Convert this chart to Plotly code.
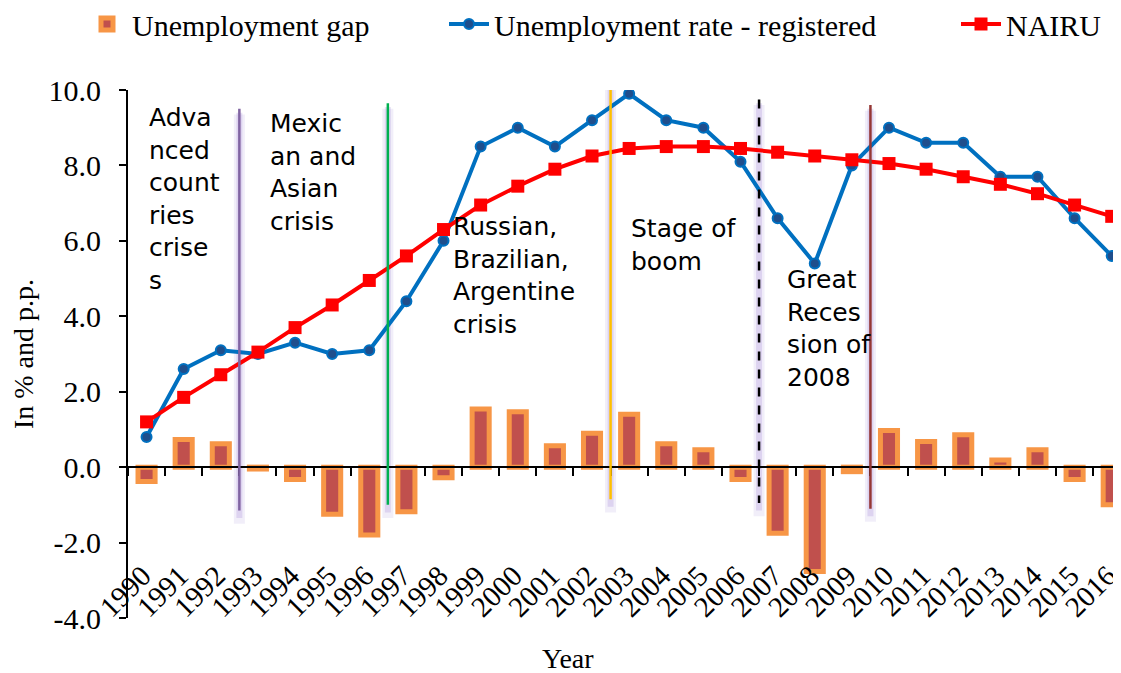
import plotly.graph_objects as go

years = [str(y) for y in range(1990, 2017)]
rate_registered = [0.8, 2.6, 3.1, 3.0, 3.3, 3.0, 3.1, 4.4, 6.0, 8.5, 9.0, 8.5, 9.2, 9.9,
                   9.2, 9.0, 8.1, 6.6, 5.4, 8.0, 9.0, 8.6, 8.6, 7.7, 7.7, 6.6, 5.6]
nairu = [1.2, 1.85, 2.45, 3.05, 3.7, 4.3, 4.95, 5.6, 6.3, 6.95, 7.45, 7.9, 8.25, 8.45,
         8.5, 8.5, 8.45, 8.35, 8.25, 8.15, 8.05, 7.9, 7.7, 7.5, 7.25, 6.95, 6.65]
gap = [-0.38, 0.73, 0.62, -0.05, -0.33, -1.25, -1.8, -1.18, -0.28, 1.54, 1.47, 0.57, 0.9, 1.4,
       0.62, 0.46, -0.33, -1.75, -2.77, -0.12, 0.97, 0.68, 0.86, 0.19, 0.46, -0.33, -1.0]

y_tickvals = [-4, -2, 0, 2, 4, 6, 8, 10]
y_ticktext = ["-4.0", "-2.0", "0.0", "2.0", "4.0", "6.0", "8.0", "10.0"]

# crisis separators: placed between year and the next year
event_after = ["1992", "1996", "2002", "2006", "2009"]
event_top = [9.5, 9.65, 10.15, 9.75, 9.6]
event_bottom = [-1.15, -1.0, -0.85, -0.95, -1.1]
event_color = ["#8064A2", "#00B050", "#FFC000", "#000000", "#953735"]
event_dash = ["solid", "solid", "solid", "dash", "solid"]

period_text = ["Adva<br>nced<br>count<br>ries<br>crise<br>s",
               "Mexic<br>an and<br>Asian<br>crisis",
               "Russian,<br>Brazilian,<br>Argentine<br>crisis",
               "Stage of<br>boom",
               "Great<br>Reces<br>sion of<br>2008"]
period_x = [0.0, 3.27, 8.19, 12.99, 17.19]
period_y = [9.70, 9.55, 6.82, 6.77, 5.42]

YMIN, YMAX = -4, 10
serif = "Liberation Serif"
W, H = 1113, 665   # page body adds an 8px margin

fig = go.Figure()
fig.add_trace(go.Bar(
    x=years, y=gap, name="Unemployment gap", width=0.46,
    marker=dict(color="#C0504D", line=dict(color="#F79646", width=5)),
    legend="legend"))
fig.add_trace(go.Scatter(
    x=years, y=rate_registered, name="Unemployment rate - registered", mode="lines+markers",
    line=dict(color="#0070C0", width=4),
    marker=dict(symbol="circle", size=10, color="#1F4E8C", line=dict(color="#0070C0", width=2)),
    legend="legend2"))
fig.add_trace(go.Scatter(
    x=years, y=nairu, name="NAIRU", mode="lines+markers",
    line=dict(color="#FF0000", width=4),
    marker=dict(symbol="square", size=13, color="#FF0000"),
    legend="legend3"))
# invisible trace carrying the boundary tick marks on the zero line
fig.add_trace(go.Scatter(x=years, y=[None] * len(years), xaxis="x2", showlegend=False,
                         hoverinfo="skip"))

shapes = []
for after, top, bot, col, dash in zip(event_after, event_top, event_bottom, event_color, event_dash):
    xi = years.index(after) + 0.5
    shapes.append(dict(type="line", xref="x", yref="y", x0=xi, x1=xi, y0=top - 0.15, y1=bot - 0.35,
                       line=dict(color="rgba(150,120,210,0.13)", width=11), layer="below"))
    shapes.append(dict(type="line", xref="x", yref="y", x0=xi, x1=xi, y0=top - 0.1, y1=bot - 0.2,
                       line=dict(color="rgba(150,120,210,0.22)", width=6), layer="below"))
    shapes.append(dict(type="line", xref="x", yref="y", x0=xi, x1=xi, y0=top, y1=bot,
                       line=dict(color=col, width=2.5, dash=dash), layer="above"))

annotations = []
for t, xx, yy in zip(period_text, period_x, period_y):
    annotations.append(dict(text=t, x=xx, y=yy, xref="x", yref="y", xanchor="left", yanchor="top",
                            align="left", showarrow=False,
                            font=dict(family="DejaVu Sans", size=25, color="#000000")))
annotations.append(dict(text="Year", x=0.443, y=-0.077, xref="paper", yref="paper",
                        xanchor="center", yanchor="middle", showarrow=False,
                        font=dict(family=serif, size=28, color="#000000")))

zero_pos = (0 - YMIN) / (YMAX - YMIN)
label_pos = (-2.25 - YMIN) / (YMAX - YMIN)

legend_common = dict(orientation="h", xref="container", yref="container", yanchor="middle",
                     y=1 - 16 / H, font=dict(family=serif, size=30, color="#000000"),
                     bgcolor="rgba(0,0,0,0)", itemwidth=40)

fig.update_layout(
    width=W, height=H,
    margin=dict(l=120, r=0, t=82, b=55, autoexpand=False),
    plot_bgcolor="white", paper_bgcolor="white",
    xaxis=dict(type="category", range=[-0.5, 26.25], anchor="free", position=label_pos,
               showline=False, ticks="", showgrid=False, tickangle=-45, automargin=False,
               ticklabelshift=-4,
               tickfont=dict(family=serif, size=29, color="#000000")),
    xaxis2=dict(type="category", range=[-0.5, 26.25], overlaying="x", anchor="free",
                position=zero_pos, showline=True, linecolor="#000000", linewidth=2,
                ticks="outside", tickson="boundaries", ticklen=8, tickwidth=2,
                tickcolor="#000000", showticklabels=False, showgrid=False),
    yaxis=dict(range=[YMIN, YMAX], tickvals=y_tickvals, ticktext=y_ticktext, showgrid=False,
               zeroline=False, automargin=False,
               showline=True, linecolor="#000000", linewidth=2, ticks="outside", ticklen=7,
               tickwidth=2, tickcolor="#000000", ticklabelstandoff=12,
               tickfont=dict(family=serif, size=30, color="#000000"),
               title=dict(text="In % and p.p.", font=dict(family=serif, size=28, color="#000000"),
                          standoff=12)),
    legend=dict(legend_common, x=74 / W),
    legend2=dict(legend_common, x=436 / W),
    legend3=dict(legend_common, x=948 / W),
    shapes=shapes,
    annotations=annotations,
)

fig.write_html("out.html")
